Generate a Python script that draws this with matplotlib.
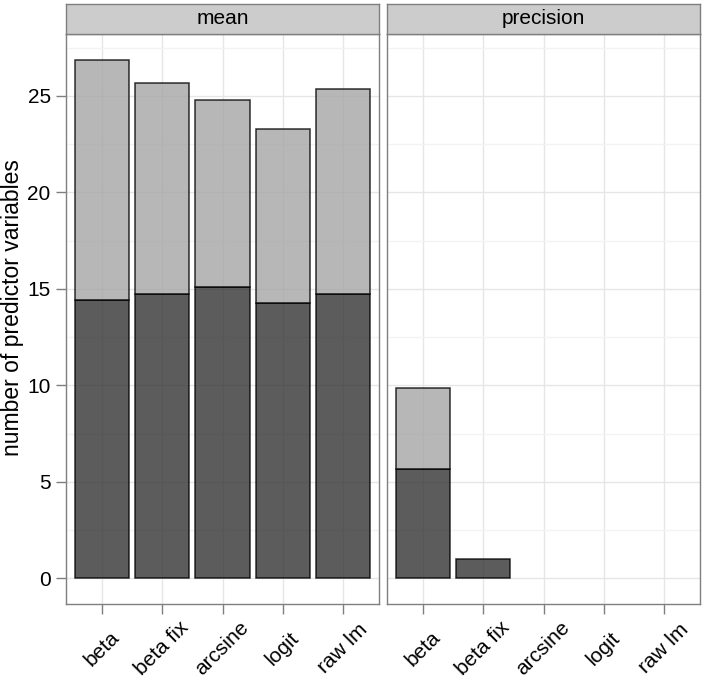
import numpy as np
import matplotlib
matplotlib.use("Agg")
import matplotlib.pyplot as plt
from matplotlib.ticker import MultipleLocator

# categories and values per facet (dark = lower part, total = full bar height)
methods = ["beta", "beta fix", "arcsine", "logit", "raw lm"]
facets = ["mean", "precision"]
mean_dark = [14.4, 14.73, 15.09, 14.26, 14.71]
mean_total = [26.85, 25.65, 24.78, 23.27, 25.37]
prec_dark = [5.67, 1.0, 0, 0, 0]
prec_total = [9.87, 1.0, 0, 0, 0]

dark_vals = [mean_dark, prec_dark]
total_vals = [mean_total, prec_total]

plt.rcParams['font.family'] = ['Liberation Sans', 'DejaVu Sans']
fs = 15

W, H = 706, 682
fig = plt.figure(figsize=(W / 100, H / 100), dpi=100)

panel_x = [66, 387]
panel_w = 313
panel_top, panel_bot = 34, 604
strip_top = 4

border = "#7f7f7f"
x = np.arange(len(methods))

for k in range(2):
    ax = fig.add_axes([panel_x[k] / W, (H - panel_bot) / H, panel_w / W, (panel_bot - panel_top) / H])
    d = np.array(dark_vals[k])
    t = np.array(total_vals[k])
    top = t - d
    ax.bar(x, d, width=0.9, color="#333333", alpha=0.8, edgecolor="black", linewidth=1.1, zorder=3)
    ax.bar(x, top, bottom=d, width=0.9, color="#a5a5a5", alpha=0.8, edgecolor="black", linewidth=1.1, zorder=3)
    # hide zero-height bars
    for p in ax.patches:
        if p.get_height() <= 0:
            p.set_visible(False)

    ax.set_xlim(-0.6, 4.6)
    ax.set_ylim(-1.33, 28.2)
    ax.yaxis.set_major_locator(MultipleLocator(5))
    ax.yaxis.set_minor_locator(MultipleLocator(2.5))
    ax.set_xticks(x)
    ax.set_xticklabels(methods, rotation=45, ha="center", va="center", rotation_mode="anchor", fontsize=fs)
    ax.tick_params(axis="x", length=7, width=1, color=border, pad=25)
    ax.tick_params(axis="y", which="major", length=7, width=1, color=border, labelsize=fs, pad=4)
    ax.tick_params(axis="y", which="minor", length=0)
    ax.grid(True, which="major", color="#e6e6e6", linewidth=1, zorder=0)
    ax.grid(True, which="minor", axis="y", color="#f3f3f3", linewidth=1, zorder=0)
    ax.set_axisbelow(True)
    for s in ax.spines.values():
        s.set_color(border)
        s.set_linewidth(1)
    if k == 0:
        ax.set_ylabel("number of predictor variables", fontsize=16.5, va="center")
        ax.yaxis.set_label_coords(-0.17, 0.52)
    else:
        ax.tick_params(axis="y", which="both", length=0, labelleft=False)

    # facet strip
    sax = fig.add_axes([panel_x[k] / W, (H - panel_top) / H, panel_w / W, (panel_top - strip_top) / H])
    sax.set_facecolor("#cccccc")
    sax.set_xticks([])
    sax.set_yticks([])
    for s in sax.spines.values():
        s.set_color(border)
        s.set_linewidth(1)
    sax.text(0.5, 0.5, facets[k], ha="center", va="center", fontsize=fs, transform=sax.transAxes)

fig.savefig("out.png", dpi=100)
